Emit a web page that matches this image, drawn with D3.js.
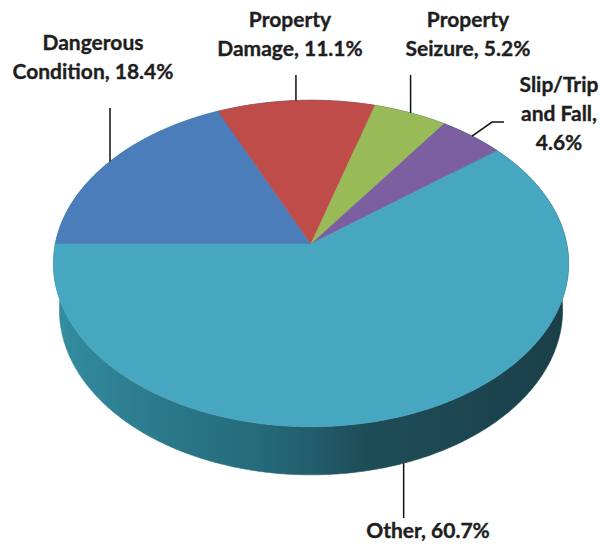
<!DOCTYPE html>
<html>
<head>
<meta charset="utf-8">
<script src="https://cdn.jsdelivr.net/npm/d3@7"></script>
<style>
  html, body { margin: 0; padding: 0; background: #ffffff; }
  svg { display: block; }
  .label { font-family: Lato, "Liberation Sans", sans-serif; font-weight: 700; font-size: 21px; fill: #1e1e1e; stroke: #1e1e1e; stroke-width: 0.35; }
  .leader { fill: none; stroke: #111111; stroke-width: 1.5; }
</style>
</head>
<body>
<svg id="chart" width="602" height="546"></svg>
<script>
// Incident categories and their share of all claims (%)
const categories = ["Dangerous Condition", "Property Damage", "Property Seizure", "Slip/Trip and Fall", "Other"];
const shares = [18.4, 11.1, 5.2, 4.6, 60.7];
const sliceColors = ["#4a7dba", "#bf4c49", "#98ba57", "#7c5fa0", "#47a6c0"];
// Label lines; {v} is replaced by the slice's share
const labelLines = [
  ["Dangerous", "Condition, {v}"],
  ["Property", "Damage, {v}"],
  ["Property", "Seizure, {v}"],
  ["Slip/Trip", "and Fall,", "{v}"],
  ["Other, {v}"]
];

const svg = d3.select("#chart");

// Perspective camera for a tilted disc of unit radius
const cam = { cx: 311, cy: 244, f: 1662, dist: 6.5, tilt: 39 * Math.PI / 180, depth: 0.24 };
const sinT = Math.sin(cam.tilt), cosT = Math.cos(cam.tilt);
function project(theta, r, z) {
  const x = r * Math.cos(theta), y = r * Math.sin(theta);
  const v = y * sinT + z * cosT;
  const w = cam.dist + y * cosT - z * sinT;
  return [cam.cx + cam.f * x / w, cam.cy - cam.f * v / w];
}

const data = categories.map((c, i) => ({ name: c, value: shares[i], color: sliceColors[i], lines: labelLines[i] }));
// first slice starts at 9 o'clock and the slices run clockwise
const arcs = d3.pie().sort(null).value(d => d.value).startAngle(-Math.PI / 2).endAngle(1.5 * Math.PI)(data);
const theta = a => Math.PI / 2 - a;

function arcSamples(a0, a1, z) {
  const n = Math.max(2, Math.ceil(Math.abs(a1 - a0) / (Math.PI / 360)));
  return d3.range(n + 1).map(k => project(theta(a0 + (a1 - a0) * k / n), 1, z));
}
const line = d3.line();

// Side wall shading
const defs = svg.append("defs");
const grad = defs.append("linearGradient").attr("id", "wallShade")
  .attr("gradientUnits", "userSpaceOnUse").attr("x1", 55).attr("x2", 570).attr("y1", 0).attr("y2", 0);
[[0, "#338da0"], [0.2, "#2b7a8b"], [0.4, "#256a79"], [0.5, "#225d6b"], [0.6, "#1e4d58"], [1, "#1b3f49"]]
  .forEach(([o, c]) => grad.append("stop").attr("offset", o).attr("stop-color", c));

// Outer walls (drawn first, the top faces cover the hidden parts)
svg.append("g").selectAll("path").data(arcs).join("path")
  .attr("d", d => {
    const top = arcSamples(d.startAngle, d.endAngle, 0);
    const bottom = arcSamples(d.startAngle, d.endAngle, -cam.depth).reverse();
    return line(top.concat(bottom)) + "Z";
  })
  .attr("fill", "url(#wallShade)")
  .attr("stroke", "url(#wallShade)").attr("stroke-width", 0.6);

// Top faces
const centre = project(0, 0, 0);
svg.append("g").selectAll("path").data(arcs).join("path")
  .attr("d", d => line([centre].concat(arcSamples(d.startAngle, d.endAngle, 0))) + "Z")
  .attr("fill", d => d.data.color)
  .attr("stroke", d => d.data.color).attr("stroke-width", 0.6);

// Label placement (text centre x, first baseline y) and leader routing
const labelLayout = [
  { x: 93, y: 50, leader: p => [p, [p[0], 108]] },
  { x: 290, y: 27, leader: p => [p, [p[0], 75]] },
  { x: 468, y: 27, leader: p => [p, [p[0], 75]] },
  { x: 559, y: 92, leader: p => [p, [p[0] + 20, p[1] - 14], [p[0] + 32, p[1] - 14]] },
  { x: 428, y: 538, leader: p => [p, [p[0], 518]] }
];
const lineGap = 29;

const labels = svg.append("g");
arcs.forEach((d, i) => {
  const mid = (d.startAngle + d.endAngle) / 2;
  const th = theta(mid);
  // front-facing slices anchor on the lower rim of the wall
  const anchor = Math.sin(th) < 0 ? project(th, 1, -cam.depth) : project(th, 1, 0);
  const lay = labelLayout[i];
  labels.append("path").attr("class", "leader").attr("d", d3.line()(lay.leader(anchor)));
  const txt = labels.append("text").attr("class", "label").attr("text-anchor", "middle");
  d.data.lines.forEach((ln, k) => {
    txt.append("tspan").attr("x", lay.x).attr("y", lay.y + k * lineGap)
      .text(ln.replace("{v}", d.data.value.toFixed(1) + "%"));
  });
});
</script>
</body>
</html>
